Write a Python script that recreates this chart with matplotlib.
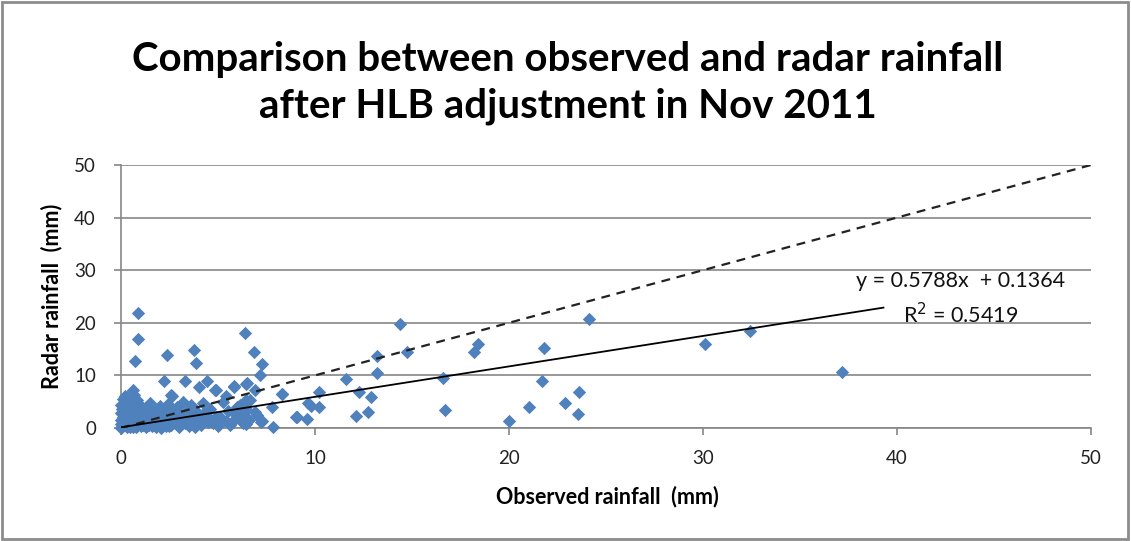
import matplotlib
matplotlib.use("Agg")
import matplotlib.pyplot as plt
from matplotlib.patches import Rectangle
import numpy as np

plt.rcParams['font.family'] = ['Lato', 'DejaVu Sans']

title = "Comparison between observed and radar rainfall\nafter HLB adjustment in Nov 2011"
xlabel = "Observed rainfall  (mm)"
ylabel = "Radar rainfall  (mm)"
ticks = [0, 10, 20, 30, 40, 50]

# Trendline (from chart label)
slope = 0.5788
intercept = 0.1364
r2 = 0.5419
trend_xmin = 0.0
trend_xmax = 39.3

# Observed rainfall (mm)
observed = [
    # dense cluster near origin
    0.0, 0.05, 0.1, 0.1, 0.15, 0.2, 0.2, 0.25, 0.3, 0.3, 0.35, 0.4, 0.4, 0.45, 0.5,
    0.5, 0.55, 0.6, 0.6, 0.65, 0.7, 0.7, 0.75, 0.8, 0.8, 0.85, 0.9, 0.9, 0.95, 1.0,
    1.0, 1.05, 1.1, 1.1, 1.15, 1.2, 0.0, 0.0, 0.0, 0.05, 0.02, 0.12, 0.3, 0.65, 0.2,
    0.15, 0.35, 0.55, 0.75, 0.95, 1.25, 0.45, 0.85, 0.25, 1.05,
    # band x 1.2 - 7.5
    1.3, 1.3, 1.4, 1.5, 1.5, 1.6, 1.6, 1.7, 1.8, 1.8, 1.9, 2.0, 2.0, 2.1, 2.2,
    2.3, 2.3, 2.4, 2.5, 2.6, 2.6, 2.7, 2.8, 2.9, 3.0, 3.0, 3.1, 3.2, 3.3, 3.4,
    3.5, 3.5, 3.6, 3.7, 3.8, 3.9, 4.0, 4.1, 4.24, 4.3, 4.4, 4.5, 4.6, 4.76, 4.9,
    5.1, 5.0, 5.27, 5.4, 5.5, 5.6, 5.8, 5.9, 6.0, 6.13, 6.3, 6.2, 6.5, 6.6, 6.43,
    6.9, 6.65, 7.0, 7.2, 7.27, 7.8, 7.82, 6.44, 2.63, 2.58, 1.45, 1.75, 2.05, 2.45,
    # scattered outliers, low range
    0.89, 0.89, 0.7, 2.37, 3.78, 3.85, 6.41, 6.87, 7.28, 7.18, 0.6, 2.22, 3.3,
    4.42, 4.02, 4.88, 5.82, 6.43, 6.9, 5.41, 8.28, 9.0, 5.8, 6.5, 4.85,
    # mid range
    14.4, 14.74, 13.2, 13.2, 18.4, 18.2, 11.6, 12.27, 12.9, 12.73, 12.1, 10.2,
    10.2, 9.65, 9.78, 9.06, 9.6, 8.3, 16.6, 16.7, 20.0, 21.05,
    # high range
    24.1, 21.8, 21.7, 30.1, 32.4, 37.15, 22.9, 23.6, 23.56,
]

# Radar rainfall (mm)
radar = [
    0.0, 0.3, 1.0, 2.1, 3.2, 0.5, 4.1, 1.6, 2.7, 0.2, 3.8, 1.2, 4.6, 2.3, 0.7,
    3.4, 5.1, 1.9, 0.1, 2.9, 4.3, 1.1, 3.6, 0.4, 2.2, 5.4, 1.5, 3.1, 0.9, 2.6,
    4.0, 0.3, 1.8, 3.3, 0.6, 2.4, 1.5, 2.8, 4.4, 3.6, 0.8, 5.6, 5.9, 6.2, 6.0,
    1.3, 4.9, 2.5, 0.2, 4.5, 1.0, 0.1, 3.7, 5.0, 2.0,
    0.2, 2.0, 3.9, 1.1, 4.8, 0.4, 2.8, 1.7, 3.4, 0.1, 2.2, 0.8, 4.2, 1.4, 3.0,
    0.3, 2.1, 4.6, 1.2, 0.5, 3.5, 2.0, 0.9, 4.0, 1.6, 0.2, 2.7, 5.0, 1.0, 3.3,
    0.4, 2.2, 4.4, 1.3, 0.1, 3.0, 1.9, 0.6, 4.75, 2.8, 2.5, 1.2, 3.6, 0.9, 2.0,
    2.15, 0.3, 5.0, 1.4, 3.2, 0.6, 2.85, 1.8, 4.0, 4.4, 0.95, 2.3, 3.5, 1.5, 0.7,
    3.1, 5.3, 2.4, 1.2, 1.3, 3.9, 0.25, 5.3, 6.1, 6.3, 0.5, 1.0, 0.0, 0.4,
    21.9, 16.9, 12.8, 13.9, 14.8, 12.4, 18.1, 14.5, 12.2, 10.0, 7.2, 9.0, 9.0,
    9.0, 7.85, 7.2, 7.85, 8.3, 7.2, 6.1, 6.5, 2.0, 8.0, 8.5, 7.2,
    19.8, 14.5, 13.6, 10.4, 16.0, 14.5, 9.3, 6.8, 5.8, 3.0, 2.35, 6.9,
    4.05, 4.8, 4.2, 2.0, 1.65, 6.5, 9.6, 3.4, 1.4, 4.05,
    20.7, 15.3, 9.0, 16.0, 18.4, 10.7, 4.8, 6.85, 2.7,
]

W, H = 1131, 541
fig = plt.figure(figsize=(W / 100, H / 100), dpi=100)
ax = fig.add_axes([121 / W, 1 - 428 / H, (1091 - 121) / W, (428 - 165) / H])

grey = '#868686'
ax.set_xlim(0, 50)
ax.set_ylim(0, 50)
ax.set_xticks(ticks)
ax.set_yticks(ticks)
ax.yaxis.grid(True, color=grey, linewidth=1.2)
ax.set_axisbelow(True)
for s in ['top', 'right']:
    ax.spines[s].set_visible(False)
for s in ['left', 'bottom']:
    ax.spines[s].set_color(grey)
    ax.spines[s].set_linewidth(1.2)
ax.tick_params(axis='both', direction='out', length=5, width=1.2, color=grey,
               labelsize=13.5, labelcolor='#222222')
ax.tick_params(axis='x', pad=11)
ax.tick_params(axis='y', pad=13)

ax.scatter(observed, radar, marker='D', s=46, color='#4F81BD', linewidths=0,
           zorder=3, clip_on=False)

# 1:1 line
ax.plot(ticks, ticks, linestyle=(0, (4, 3)), color='#222222', linewidth=1.6, zorder=4)

# Trendline
tx = np.array([trend_xmin, trend_xmax])
ax.plot(tx, slope * tx + intercept, color='black', linewidth=1.3, zorder=4)

ax.text(43.3, 28.0, f"y = {slope}x  + {intercept}", ha='center', va='center',
        fontsize=15.5, color='#111111', zorder=5)
ax.text(43.3, 21.5, f"R$^2$ = {r2}", ha='center', va='center',
        fontsize=15.5, color='#111111', zorder=5)

fig.text(568 / W, 1 - 83 / H, title, ha='center', va='center', fontsize=29,
         fontweight='bold', linespacing=1.3)
fig.text(607 / W, 1 - 497 / H, xlabel, ha='center', va='center', fontsize=15.5,
         fontweight='bold')
fig.text(52 / W, 1 - 296 / H, ylabel, ha='center', va='center', fontsize=15.5,
         fontweight='bold', rotation=90)

fig.patches.append(Rectangle((0.002, 0.003), 0.995, 0.993, transform=fig.transFigure,
                             fill=False, edgecolor='#8c8c8c', linewidth=2))

fig.savefig('out.png', dpi=100)
